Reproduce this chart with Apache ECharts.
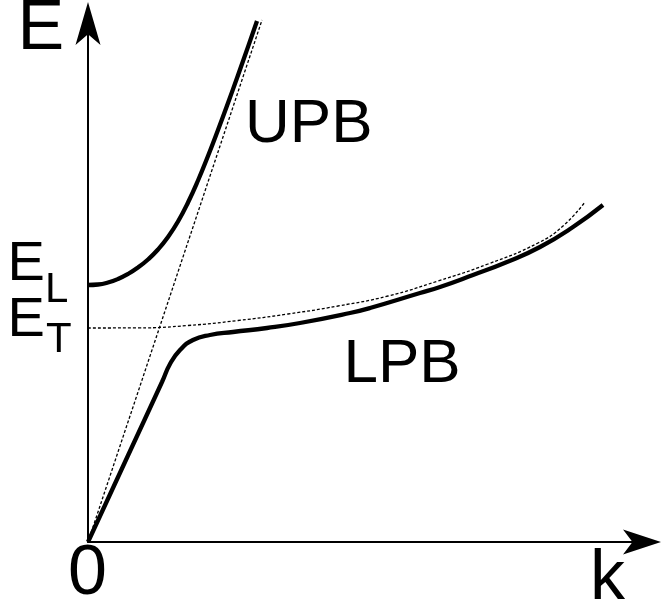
<!DOCTYPE html>
<html>
<head>
<meta charset="utf-8">
<title>Polariton dispersion</title>
<script src="https://cdn.jsdelivr.net/npm/echarts@6/dist/echarts.min.js"></script>
<style>
  html, body { margin: 0; padding: 0; background: #fff; }
  #chart { width: 662px; height: 612px; }
</style>
</head>
<body>
<div id="chart"></div>
<script>
// Exciton-polariton dispersion, E(k), arbitrary units
const EL = 2.57;   // upper branch at k = 0
const ET = 2.14;   // transverse exciton level

// bare photon (light line) and bare exciton (dashed guides)
const photonLine = [[0, 0], [1.74, 5.22]];
const excitonLine = [
  [0, 2.14], [0.5, 2.141], [1.0, 2.165], [1.5, 2.215], [2.0, 2.28],
  [2.5, 2.36], [3.0, 2.46], [3.5, 2.61], [4.0, 2.78], [4.5, 2.99],
  [4.75, 3.16], [4.97, 3.40]
];

// upper polariton branch
const upperBranch = [
  [0, 2.57], [0.1, 2.575], [0.2, 2.595], [0.3, 2.63], [0.4, 2.68],
  [0.5, 2.745], [0.6, 2.825], [0.7, 2.925], [0.8, 3.05], [0.9, 3.205],
  [1.0, 3.395], [1.1, 3.615], [1.2, 3.86], [1.3, 4.12], [1.4, 4.39],
  [1.5, 4.668], [1.6, 4.951], [1.69, 5.21]
];

// lower polariton branch
const lowerBranch = [
  [0, 0], [0.40, 0.865], [0.74, 1.60], [0.82, 1.78], [0.92, 1.92],
  [1.05, 2.02], [1.22, 2.07], [1.45, 2.10], [1.79, 2.14], [2.12, 2.19],
  [2.62, 2.29], [2.82, 2.34], [3.32, 2.49], [3.52, 2.55], [3.85, 2.67],
  [4.19, 2.80], [4.52, 2.95], [4.85, 3.15], [5.15, 3.37]
];

const kMax = 5.5;
const eMax = 5.2;

const FONT = '"Liberation Sans", Arial, Helvetica, sans-serif';

function label(text, x, y, size, align) {
  return {
    type: 'text',
    x: x,
    y: y,
    silent: true,
    z: 100,
    style: {
      text: text,
      font: size + 'px ' + FONT,
      fill: '#000',
      align: align || 'left',
      textAlign: align || 'left',
      verticalAlign: 'middle',
      textVerticalAlign: 'middle'
    }
  };
}

function curve(data, width, dashed, smooth) {
  return {
    type: 'line',
    data: data,
    symbol: 'none',
    showSymbol: false,
    smooth: smooth,
    clip: false,
    silent: true,
    z: dashed ? 2 : 3,
    lineStyle: {
      color: '#000',
      width: width,
      type: dashed ? [3, 2] : 'solid',
      cap: 'butt'
    }
  };
}

const chart = echarts.init(document.getElementById('chart'), null, { renderer: 'canvas' });

chart.setOption({
  animation: false,
  backgroundColor: '#fff',
  grid: { left: 88, right: 24, top: 22, bottom: 70, containLabel: false },
  xAxis: {
    type: 'value',
    min: 0,
    max: kMax,
    axisLine: {
      show: true,
      onZero: false,
      symbol: ['none', 'arrow'],
      symbolSize: [18.75, 38],
      symbolOffset: [0, 23],
      lineStyle: { color: '#000', width: 2 }
    },
    axisTick: { show: false },
    axisLabel: { show: false },
    splitLine: { show: false }
  },
  yAxis: {
    type: 'value',
    min: 0,
    max: eMax,
    axisLine: {
      show: true,
      onZero: false,
      symbol: ['none', 'arrow'],
      symbolSize: [18.75, 43],
      symbolOffset: [0, 20],
      lineStyle: { color: '#000', width: 2 }
    },
    axisTick: { show: false },
    axisLabel: { show: false },
    splitLine: { show: false }
  },
  series: [
    curve(photonLine, 1.3, true, false),
    curve(excitonLine, 1.3, true, 0.5),
    curve(upperBranch, 4.3, false, 0.5),
    curve(lowerBranch, 4.3, false, 0.5)
  ],
  graphic: [
    label('E', 17.5, 30, 70),
    label('k', 590, 580, 70),
    label('0', 87.5, 575, 70, 'center'),
    label('UPB', 245, 125, 62),
    label('LPB', 343.5, 365, 62),
    label('E', 7.5, 265, 56),
    label('L', 45, 290, 42),
    label('E', 7.5, 321, 56),
    label('T', 46, 340, 42)
  ]
});
</script>
</body>
</html>
